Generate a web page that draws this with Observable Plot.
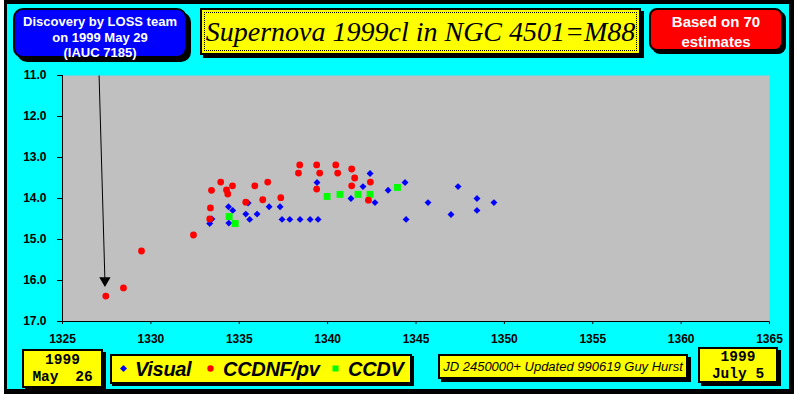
<!DOCTYPE html>
<html>
<head>
<meta charset="utf-8">
<script src="https://cdn.jsdelivr.net/npm/d3@7"></script>
<script src="https://cdn.jsdelivr.net/npm/@observablehq/plot@0.6"></script>
<style>
  html, body { margin: 0; padding: 0; background: #fff; }
  #wrap { position: relative; width: 796px; height: 398px; overflow: hidden; background: #fff; }
  .abs { position: absolute; box-sizing: border-box; }
  .box { border: 2px solid #000; box-shadow: 4px 4px 0 #000; }
  .sans { font-family: "Liberation Sans", Arial, sans-serif; }
  .mono { font-family: "Liberation Mono", "Courier New", monospace; font-weight: bold; }
  .line { position: absolute; left: 0; right: 0; text-align: center; white-space: nowrap; }
  .dotborder { position: absolute; left: 2px; top: 2px; right: 2px; bottom: 2px; border: 1px dotted #000; pointer-events: none; }
</style>
</head>
<body>
<div id="wrap">
  <div class="abs" style="left:4px;top:0;width:790px;height:394px;background:#000"></div>
  <div class="abs" style="left:7px;top:4px;width:782px;height:385px;background:#00ffff"></div>
  <div id="chart" class="abs" style="left:0;top:0"></div>

  <div class="abs box sans" style="left:13px;top:8px;width:174px;height:50px;background:#0000ff;border-radius:10px;color:#fff;font-weight:bold;font-size:13px">
    <div class="line" style="top:4px;line-height:16px">Discovery by LOSS team</div>
    <div class="line" style="top:20px;line-height:16px">on 1999 May 29</div>
    <div class="line" style="top:36px;line-height:13px">(IAUC 7185)</div>
  </div>

  <div class="abs box" style="left:200px;top:8px;width:441px;height:47px;background:#ffff00;box-shadow:3px 3px 0 #000;font-family:'Liberation Serif','Times New Roman',serif;font-style:italic;font-size:28px;line-height:44px;text-align:center;color:#000;white-space:nowrap">
    <div class="dotborder"></div>Supernova 1999cl in NGC 4501=M88</div>

  <div class="abs box sans" style="left:649px;top:8px;width:134px;height:43px;background:#ff0000;border-radius:8px;box-shadow:3px 3px 0 #000;color:#fff;font-weight:bold;font-size:15px">
    <div class="line" style="top:2px;line-height:19px">Based on 70</div>
    <div class="line" style="top:23px;line-height:17px">estimates</div>
  </div>

  <div class="abs box mono" style="left:22px;top:349px;width:81px;height:39px;background:#ffff00;box-shadow:3px 3px 0 #000;font-size:14.5px;color:#000">
    <div class="line" style="top:1px;line-height:17px">1999</div>
    <div class="line" style="top:18px;line-height:17px;word-spacing:8px">May 26</div>
  </div>

  <div id="legend" class="abs box sans" style="left:110px;top:354px;width:302px;height:30px;background:#ffff00;box-shadow:2px 2px 0 #000"></div>

  <div class="abs box sans" style="left:438px;top:354px;width:250px;height:25px;background:#ffff00;box-shadow:3px 3px 0 #000;font-style:italic;font-size:13px;line-height:21px;text-align:center;color:#000;white-space:nowrap">JD 2450000+ Updated 990619 Guy Hurst</div>

  <div class="abs box mono" style="left:698px;top:347px;width:80px;height:36px;background:#ffff00;box-shadow:3px 3px 0 #000;font-size:14.5px;color:#000">
    <div class="line" style="top:0px;line-height:17px">1999</div>
    <div class="line" style="top:17px;line-height:17px">July 5</div>
  </div>
</div>
<script>
// ---- data (JD 2450000+ , magnitude) ----
const visualDays = [1333.33, 1333.45, 1334.39, 1334.41, 1334.63, 1335.37, 1335.50, 1335.59, 1336.01, 1336.69,
  1337.31, 1337.42, 1337.86, 1338.44, 1339.01, 1339.40, 1339.46, 1341.32, 1342.00, 1342.40,
  1342.68, 1343.42, 1344.38, 1344.44, 1345.68, 1346.98, 1347.38, 1348.45, 1348.45, 1349.41];
const visualMags = [14.61, 14.50, 14.20, 14.60, 14.29, 14.38, 14.11, 14.51, 14.38, 14.20,
  14.20, 14.51, 14.51, 14.51, 14.51, 13.61, 14.51, 14.00, 13.71, 13.39,
  14.10, 13.80, 13.61, 14.51, 14.10, 14.39, 13.71, 14.00, 14.29, 14.10];

const ccdnfDays = [1327.45, 1328.45, 1329.47, 1332.41, 1333.33, 1333.37, 1333.43, 1333.95, 1334.28, 1334.35,
  1334.62, 1335.37, 1335.88, 1336.33, 1336.61, 1337.35, 1338.35, 1338.42, 1339.38, 1339.38,
  1339.55, 1340.46, 1340.57, 1341.36, 1341.36, 1341.53, 1342.31, 1342.42];
const ccdnfMags = [16.38, 16.18, 15.28, 14.89, 14.50, 14.23, 13.80, 13.60, 13.79, 13.89,
  13.69, 14.09, 13.69, 14.03, 13.60, 13.98, 13.38, 13.18, 13.18, 13.77,
  13.38, 13.18, 13.38, 13.28, 13.69, 13.50, 14.04, 13.60];

const ccdvDays = [1334.43, 1334.77, 1339.97, 1340.70, 1341.72, 1342.40, 1343.95];
const ccdvMags = [14.44, 14.61, 13.95, 13.90, 13.90, 13.90, 13.73];

// discovery arrow (start / end)
const arrowDays = [1327.07, 1327.40];
const arrowMags = [11.0, 16.0];

const xTicks = [1325, 1330, 1335, 1340, 1345, 1350, 1355, 1360, 1365];
const yTicks = [11, 12, 13, 14, 15, 16, 17];

const seriesNames = ["Visual", "CCDNF/pv", "CCDV"];
const seriesColors = ["#0000ff", "#ff0000", "#00ff00"];

// ---- build tables ----
const visual = visualDays.map((d, i) => ({x: d, y: visualMags[i]}));
const ccdnf = ccdnfDays.map((d, i) => ({x: d, y: ccdnfMags[i]}));
const ccdv = ccdvDays.map((d, i) => ({x: d, y: ccdvMags[i]}));
const arrow = [{x1: arrowDays[0], y1: arrowMags[0], x2: arrowDays[1], y2: arrowMags[1]}];
const arrowHead = [{x: arrowDays[1], y: arrowMags[1]}];

const chart = Plot.plot({
  width: 796,
  height: 398,
  marginLeft: 62,
  marginRight: 27,
  marginTop: 75,
  marginBottom: 77,
  style: {
    background: "transparent",
    fontFamily: "'Liberation Sans', Arial, sans-serif",
    fontSize: "12px",
    fontWeight: "bold",
    color: "#000",
    overflow: "visible"
  },
  x: {
    domain: [1325, 1365],
    ticks: xTicks,
    tickSize: 3,
    tickPadding: 10,
    tickFormat: d => String(d),
    label: null
  },
  y: {
    domain: [11, 17],
    reverse: true,
    ticks: yTicks,
    tickSize: 5,
    tickPadding: 11,
    tickFormat: d => d.toFixed(1),
    label: null
  },
  marks: [
    Plot.frame({fill: "#c0c0c0", stroke: "none"}),
    Plot.ruleX([1325], {stroke: "#000", strokeWidth: 1}),
    Plot.ruleY([17], {stroke: "#000", strokeWidth: 1}),
    Plot.link(arrow, {x1: "x1", y1: "y1", x2: "x2", y2: "y2", stroke: "#000", strokeWidth: 1}),
    Plot.dot(arrowHead, {x: "x", y: "y", symbol: "triangle", r: 4.2, fill: "#000", stroke: "none", rotate: 180}),
    Plot.dot(visual, {x: "x", y: "y", symbol: "diamond2", r: 3.1, fill: seriesColors[0], stroke: "none"}),
    Plot.dot(ccdv, {x: "x", y: "y", symbol: "square", r: 3.9, fill: seriesColors[2], stroke: "none"}),
    Plot.dot(ccdnf, {x: "x", y: "y", symbol: "circle", r: 3.4, fill: seriesColors[1], stroke: "none"})
  ]
});
document.getElementById("chart").appendChild(chart);

// ---- legend ----
const legend = document.getElementById("legend");
const markerX = [11, 98, 223];
const textX = [23, 111, 236];
const markerSvg = [
  '<svg width="9" height="9" viewBox="-4.5 -4.5 9 9"><path d="M0,-3.5L3.5,0L0,3.5L-3.5,0Z" fill="#0000ff"/></svg>',
  '<svg width="9" height="9" viewBox="-4.5 -4.5 9 9"><circle r="3.2" fill="#ff0000"/></svg>',
  '<svg width="9" height="9" viewBox="-4.5 -4.5 9 9"><rect x="-3" y="-3" width="6" height="6" fill="#00ff00"/></svg>'
];
seriesNames.forEach((name, i) => {
  const m = document.createElement("div");
  m.style.cssText = `position:absolute;left:${markerX[i] - 4.5}px;top:${14 - 4.5 - 2}px;width:9px;height:9px;line-height:0`;
  m.innerHTML = markerSvg[i];
  legend.appendChild(m);
  const t = document.createElement("div");
  t.textContent = name;
  t.style.cssText = `position:absolute;left:${textX[i]}px;top:1px;font-weight:bold;font-style:italic;font-size:20px;line-height:24px;color:#000;white-space:nowrap;letter-spacing:-0.3px`;
  legend.appendChild(t);
});
</script>
</body>
</html>
